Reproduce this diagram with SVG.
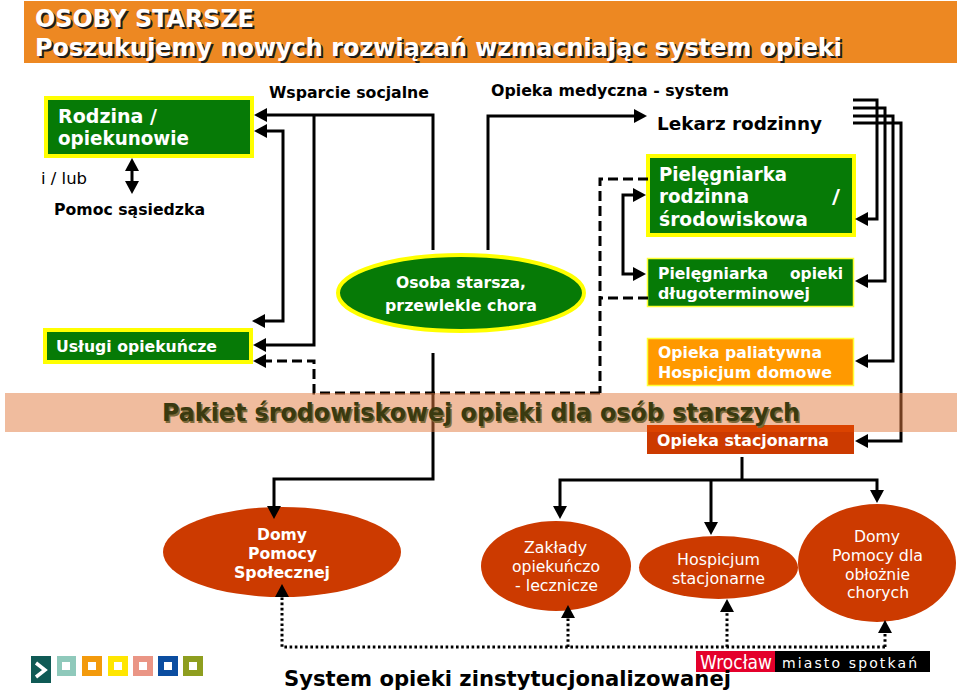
<svg xmlns="http://www.w3.org/2000/svg" width="960" height="691" viewBox="0 0 960 691">
<style>
text{font-family:"DejaVu Sans","Liberation Sans",sans-serif;font-weight:bold;fill:#fff;font-size:17px}
.b{fill:#000}
.n{font-weight:normal}
.gy{fill:#067a06;stroke:#ffff00;stroke-width:4}
.gt{fill:#067a06;stroke:#ffff33;stroke-width:1.5}
.r{fill:#cc3a00}
.l{fill:none;stroke:#000;stroke-width:3}
.d{stroke-dasharray:10 5}
.o{stroke-dasharray:2.6 2.6}
.a{marker-end:url(#arr)}
.title{font-size:24px}
.ts{fill:#1c1c1c;font-size:24px}
.pk{font-size:25px;fill:#3a3a10}
.pks{font-size:25px;fill:#7d6a3a}
</style>
<defs>
<marker id="arr" markerUnits="userSpaceOnUse" markerWidth="14" markerHeight="15" refX="5" refY="7.5" orient="auto"><path d="M0,0.5 L13,7.5 L0,14.5 Z" fill="#000"/></marker>
</defs>
<rect id="header-band" x="24" y="1" width="933" height="62" fill="#ed8822"/>
<g id="header-text">
<text class="ts" x="37" y="29" textLength="219" lengthAdjust="spacingAndGlyphs">OSOBY STARSZE</text>
<text class="title" x="35" y="27" textLength="219" lengthAdjust="spacingAndGlyphs">OSOBY STARSZE</text>
<text class="ts" x="37" y="58" textLength="807" lengthAdjust="spacingAndGlyphs">Poszukujemy nowych rozwiązań wzmacniając system opieki</text>
<text class="title" x="35" y="56" textLength="807" lengthAdjust="spacingAndGlyphs">Poszukujemy nowych rozwiązań wzmacniając system opieki</text>
</g>
<g id="rodzina"><rect class="gy" x="46" y="98" width="206" height="58"/>
<text x="58" y="123" style="font-size:19px" textLength="99" lengthAdjust="spacingAndGlyphs">Rodzina /</text>
<text x="58" y="145" style="font-size:19px" textLength="131" lengthAdjust="spacingAndGlyphs">opiekunowie</text></g>
<g id="ilub"><text class="b n" x="41" y="184" style="font-size:15px" textLength="46" lengthAdjust="spacingAndGlyphs">i / lub</text></g>
<g id="pomoc"><text class="b" x="54" y="215" style="font-size:15px" textLength="151" lengthAdjust="spacingAndGlyphs">Pomoc sąsiedzka</text></g>
<g id="wsparcie"><text class="b" x="269" y="98" style="font-size:16px" textLength="160" lengthAdjust="spacingAndGlyphs">Wsparcie socjalne</text></g>
<g id="medyczna"><text class="b" x="491" y="96" style="font-size:15px" textLength="238" lengthAdjust="spacingAndGlyphs">Opieka medyczna - system</text></g>
<g id="lekarz"><text class="b" x="657" y="130" style="font-size:18px" textLength="165" lengthAdjust="spacingAndGlyphs">Lekarz rodzinny</text></g>
<g id="pielegniarka-rodzinna"><rect class="gy" x="648" y="156" width="206" height="79"/>
<text x="659" y="181" style="font-size:19px" textLength="128" lengthAdjust="spacingAndGlyphs">Pielęgniarka</text>
<text x="659" y="203" style="font-size:19px" textLength="90" lengthAdjust="spacingAndGlyphs">rodzinna</text>
<text x="832" y="203" style="font-size:19px" textLength="8" lengthAdjust="spacingAndGlyphs">/</text>
<text x="659" y="226" style="font-size:19px" textLength="149" lengthAdjust="spacingAndGlyphs">środowiskowa</text></g>
<g id="osoba"><ellipse cx="461" cy="293" rx="123" ry="38" fill="#067a06" stroke="#ffff00" stroke-width="4"/>
<text x="396" y="288" textLength="130" lengthAdjust="spacingAndGlyphs" style="font-size:15px">Osoba starsza,</text>
<text x="385" y="311" textLength="152" lengthAdjust="spacingAndGlyphs" style="font-size:15px">przewlekle chora</text></g>
<g id="pielegniarka-opieki"><rect class="gt" x="647.5" y="258.5" width="206" height="48"/>
<text x="658" y="279" style="font-size:15px" textLength="110" lengthAdjust="spacingAndGlyphs">Pielęgniarka</text>
<text x="790" y="279" style="font-size:15px" textLength="53" lengthAdjust="spacingAndGlyphs">opieki</text>
<text x="658" y="299" style="font-size:15px" textLength="152" lengthAdjust="spacingAndGlyphs">długoterminowej</text></g>
<g id="uslugi"><rect class="gy" x="45" y="330" width="206" height="32"/>
<text x="56" y="352" style="font-size:15px" textLength="161" lengthAdjust="spacingAndGlyphs">Usługi opiekuńcze</text></g>
<g id="paliatywna"><rect x="647.5" y="338.5" width="206" height="47" fill="#ff9900" stroke="#ffff33" stroke-width="1.5"/>
<text x="658" y="358" style="font-size:15px" textLength="164" lengthAdjust="spacingAndGlyphs">Opieka paliatywna</text>
<text x="658" y="378" style="font-size:15px" textLength="174" lengthAdjust="spacingAndGlyphs">Hospicjum domowe</text></g>
<g id="dps"><ellipse class="r" cx="282" cy="552" rx="119" ry="45"/>
<text x="257" y="540" style="font-size:15px" textLength="50" lengthAdjust="spacingAndGlyphs">Domy</text>
<text x="248" y="559" style="font-size:15px" textLength="69" lengthAdjust="spacingAndGlyphs">Pomocy</text>
<text x="234" y="578" style="font-size:15px" textLength="96" lengthAdjust="spacingAndGlyphs">Społecznej</text></g>
<g id="zaklady"><ellipse class="r" cx="556" cy="566" rx="75" ry="45"/>
<text class="n" x="524" y="553" style="font-size:16px" textLength="63" lengthAdjust="spacingAndGlyphs">Zakłady</text>
<text class="n" x="512" y="572" style="font-size:16px" textLength="88" lengthAdjust="spacingAndGlyphs">opiekuńczo</text>
<text class="n" x="515" y="591" style="font-size:16px" textLength="83" lengthAdjust="spacingAndGlyphs">- lecznicze</text></g>
<g id="hospicjum"><ellipse class="r" cx="718.5" cy="567.5" rx="79.5" ry="31.5"/>
<text class="n" x="677" y="565" style="font-size:16px" textLength="83" lengthAdjust="spacingAndGlyphs">Hospicjum</text>
<text class="n" x="672" y="584" style="font-size:16px" textLength="93" lengthAdjust="spacingAndGlyphs">stacjonarne</text></g>
<g id="obloznie"><ellipse class="r" cx="877" cy="563" rx="79" ry="59"/>
<text class="n" x="854" y="542" style="font-size:16px" textLength="46" lengthAdjust="spacingAndGlyphs">Domy</text>
<text class="n" x="832" y="561" style="font-size:16px" textLength="91" lengthAdjust="spacingAndGlyphs">Pomocy dla</text>
<text class="n" x="845" y="580" style="font-size:16px" textLength="65" lengthAdjust="spacingAndGlyphs">obłożnie</text>
<text class="n" x="847" y="598" style="font-size:16px" textLength="62" lengthAdjust="spacingAndGlyphs">chorych</text></g>
<g id="connectors">
<path class="l a" d="M433,250 V115 H262"/>
<path class="l a" d="M314,115 V345 H261"/>
<path class="l a" d="M283,200 V131 H262"/>
<path class="l a" d="M283,200 V321 H260"/>
<path class="l a" d="M433,353 V479 H274 V511"/>
<path class="l d a" d="M600,393 H314 V361 H261"/>
<path class="l d" d="M648,179 H600 V393"/>
<path class="l d" d="M648,298 H600"/>
<path class="l a" d="M488,250 V116 H639"/>
<path class="l a" d="M623,235 V195 H638"/>
<path class="l a" d="M623,235 V274 H638"/>
<path class="l a" d="M132,176 V166"/>
<path class="l a" d="M132,176 V186"/>
<path class="l a" d="M853,100 H877 V219 H863"/>
<path class="l a" d="M853,108 H885 V281 H863"/>
<path class="l a" d="M853,116 H893 V361 H863"/>
<path class="l a" d="M853,123 H901 V441 H863"/>
<path class="l" d="M742,457 V480"/>
<path class="l a" d="M742,480 H560 V511"/>
<path class="l a" d="M742,480 H877 V495"/>
<path class="l a" d="M711,480 V527"/>
<path class="l o a" d="M885,647 H282 V592"/>
<path class="l o a" d="M568,647 V613"/>
<path class="l o a" d="M727,647 V607"/>
<path class="l o a" d="M885,647 V628"/>
</g>
<rect id="band" x="5" y="393" width="952" height="39" fill="#e1793d" opacity="0.5"/>
<g id="stacjonarna"><rect class="r" x="647" y="425" width="207" height="29"/><rect x="647" y="425" width="207" height="7" fill="#db4300"/>
<text x="657" y="446" style="font-size:15px" textLength="172" lengthAdjust="spacingAndGlyphs">Opieka stacjonarna</text></g>
<g id="pakiet">
<text class="pks" x="163.5" y="422.5" textLength="638" lengthAdjust="spacingAndGlyphs">Pakiet środowiskowej opieki dla osób starszych</text>
<text class="pk" x="162" y="421" textLength="638" lengthAdjust="spacingAndGlyphs">Pakiet środowiskowej opieki dla osób starszych</text></g>
<g id="legend">
<rect x="31" y="656" width="20" height="27" fill="#0f5a55"/>
<path d="M36,663 L45,670 L36,677" fill="none" stroke="#fff" stroke-width="3.5"/>
<rect x="57" y="656" width="19" height="20" fill="#8fc9bb"/><rect x="62" y="662" width="8" height="8" fill="#fff"/>
<rect x="82" y="656" width="20" height="20" fill="#f39a0c"/><rect x="88" y="662" width="8" height="8" fill="#fff"/>
<rect x="108" y="656" width="20" height="20" fill="#ffe600"/><rect x="114" y="662" width="8" height="8" fill="#fff"/>
<rect x="133" y="656" width="20" height="20" fill="#ea9585"/><rect x="139" y="662" width="8" height="8" fill="#fff"/>
<rect x="158" y="656" width="20" height="20" fill="#0b4da0"/><rect x="164" y="662" width="8" height="8" fill="#fff"/>
<rect x="183" y="656" width="20" height="20" fill="#8e9e1f"/><rect x="189" y="662" width="8" height="8" fill="#fff"/>
</g>
<g id="logo">
<rect x="696" y="651" width="79" height="21" fill="#e4002b"/>
<rect x="775" y="651" width="155" height="21" fill="#000"/>
<text class="n" x="700" y="669" style="font-size:19px" textLength="72" lengthAdjust="spacingAndGlyphs">Wrocław</text>
<text class="n" x="782" y="668" style="font-size:14px" textLength="135" lengthAdjust="spacing">miasto spotkań</text>
</g>
<g id="system"><text class="b" x="284" y="686" style="font-size:22px" textLength="447" lengthAdjust="spacingAndGlyphs">System opieki zinstytucjonalizowanej</text></g>
</svg>
